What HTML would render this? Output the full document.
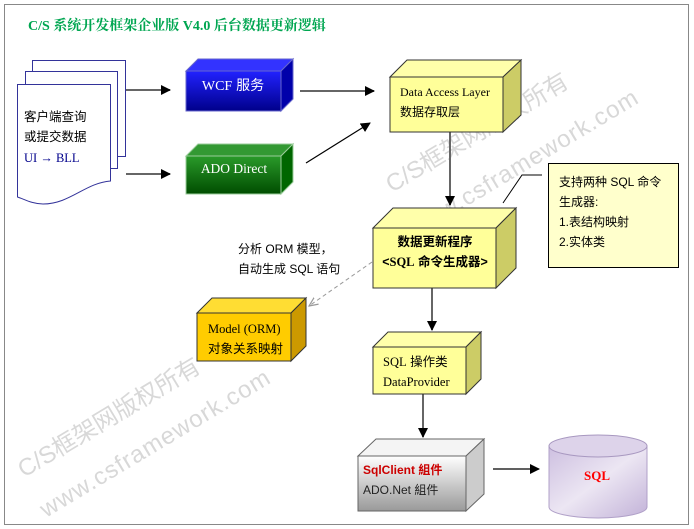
<!DOCTYPE html>
<html><head><meta charset="utf-8"><style>
html,body{margin:0;padding:0;background:#fff;}
svg{display:block;}
text{font-family:"Liberation Sans","Noto Sans CJK SC",sans-serif;}
.s{font-family:"Liberation Serif","Noto Serif CJK SC","Noto Sans CJK SC",serif;}
</style></head><body>
<svg width="694" height="529" viewBox="0 0 694 529" xmlns="http://www.w3.org/2000/svg">
<defs>
<linearGradient id="blue" x1="0" y1="0" x2="0" y2="1"><stop offset="0" stop-color="#2222ff"/><stop offset="1" stop-color="#00008a"/></linearGradient>
<linearGradient id="green" x1="0" y1="0" x2="0" y2="1"><stop offset="0" stop-color="#2a9a2a"/><stop offset="1" stop-color="#004d00"/></linearGradient>
<linearGradient id="gray" x1="0" y1="0" x2="0" y2="1"><stop offset="0" stop-color="#ffffff"/><stop offset="1" stop-color="#999999"/></linearGradient>
<linearGradient id="cyl" x1="0" y1="0" x2="1" y2="1"><stop offset="0" stop-color="#cdbfe0"/><stop offset="0.5" stop-color="#ece6f3"/><stop offset="1" stop-color="#c2b2d8"/></linearGradient>
<marker id="ar" markerWidth="10" markerHeight="10" refX="9" refY="5" orient="auto" markerUnits="userSpaceOnUse"><path d="M0,0 L10,5 L0,10 z" fill="#000"/></marker>
<marker id="ag" markerWidth="10" markerHeight="10" refX="9" refY="5" orient="auto" markerUnits="userSpaceOnUse"><path d="M0,1 L9,5 L0,9" fill="none" stroke="#999" stroke-width="1.2"/></marker>
</defs>
<rect x="4.5" y="4.5" width="684" height="520" fill="#fff" stroke="#888" stroke-width="1"/>

<g fill="#d4d4d4" font-size="24" opacity="0.9">
<text x="392" y="193" transform="rotate(-31 392 193)">C/S框架网版权所有</text>
<text x="414" y="238" transform="rotate(-31 414 238)" letter-spacing="1">www.csframework.com</text>
<text x="24" y="478" transform="rotate(-31 24 478)">C/S框架网版权所有</text>
<text x="46" y="518" transform="rotate(-31 46 518)" letter-spacing="1">www.csframework.com</text>
</g>

<text x="28" y="30" class="s" font-size="14" font-weight="bold" fill="#00a651">C/S 系统开发框架企业版 V4.0 后台数据更新逻辑</text>

<g fill="#fff" stroke="#33339a" stroke-width="1">
<rect x="32.5" y="60.5" width="93" height="96"/>
<rect x="25.5" y="71.5" width="92" height="97"/>
<path d="M17.5,84.5 H110.5 V181 C85,183 70,204 43,204 C32,204 24,199 17.5,197 Z"/>
</g>
<g font-size="12.5" fill="#000">
<text x="24" y="121">客户端查询</text>
<text x="24" y="141">或提交数据</text>
<text x="24" y="162" class="s" fill="#00008b">UI → BLL</text>
</g>

<g stroke="#666" stroke-width="2" fill="none">
<line x1="126" y1="90" x2="170" y2="90" marker-end="url(#ar)"/>
<line x1="126" y1="174" x2="170" y2="174" marker-end="url(#ar)"/>
<line x1="300" y1="91" x2="374" y2="91" marker-end="url(#ar)"/>
<line x1="306" y1="163" x2="370" y2="123" stroke="#000" stroke-width="1.2" marker-end="url(#ar)"/>
<line x1="450" y1="132" x2="450" y2="205" marker-end="url(#ar)"/>
<line x1="432" y1="288" x2="432" y2="330" marker-end="url(#ar)"/>
<line x1="423" y1="394" x2="423" y2="437" marker-end="url(#ar)"/>
<line x1="493" y1="469" x2="539" y2="469" stroke="#000" stroke-width="1.2" marker-end="url(#ar)"/>
<line x1="372" y1="262" x2="309" y2="306" stroke="#999" stroke-width="1" stroke-dasharray="4,3" marker-end="url(#ag)"/>
<polyline points="542,175 522,175 503,203" stroke="#000" stroke-width="1"/>
</g>

<g stroke="#6666cc" stroke-width="1">
<polygon points="186,71 198,59 293,59 281,71" fill="#3333ff"/>
<polygon points="281,71 293,59 293,99 281,111" fill="#0000aa"/>
<rect x="186" y="71" width="95" height="40" fill="url(#blue)"/>
</g>
<text x="233" y="90" font-size="14" fill="#fff" text-anchor="middle"><tspan class="s">WCF</tspan> 服务</text>

<g stroke="#9c9" stroke-width="1">
<polygon points="186,156 198,144 293,144 281,156" fill="#339933"/>
<polygon points="281,156 293,144 293,182 281,194" fill="#006600"/>
<rect x="186" y="156" width="95" height="38" fill="url(#green)"/>
</g>
<text x="234" y="173" class="s" font-size="13.5" fill="#fff" text-anchor="middle">ADO Direct</text>

<g stroke="#333" stroke-width="1">
<polygon points="390,77 407,60 521,60 503,77" fill="#ffffaa"/>
<polygon points="503,77 521,60 521,115 503,132" fill="#cccc66"/>
<rect x="390" y="77" width="113" height="55" fill="#ffff99"/>
</g>
<text x="400" y="96" class="s" font-size="12" fill="#000">Data Access Layer</text>
<text x="400" y="116" font-size="12" fill="#000">数据存取层</text>

<g stroke="#333" stroke-width="1">
<polygon points="373,228 393,208 516,208 496,228" fill="#ffffaa"/>
<polygon points="496,228 516,208 516,268 496,288" fill="#cccc66"/>
<rect x="373" y="228" width="123" height="60" fill="#ffff99"/>
</g>
<text x="435" y="246" font-size="12.5" font-weight="bold" text-anchor="middle">数据更新程序</text>
<text x="435" y="266" font-size="12.5" font-weight="bold" text-anchor="middle">&lt;<tspan class="s">SQL</tspan> 命令生成器&gt;</text>

<rect x="548.5" y="163.5" width="130" height="104" fill="#ffffcc" stroke="#000"/>
<g font-size="12" fill="#000">
<text x="559" y="186">支持两种  SQL  命令</text>
<text x="559" y="206">生成器:</text>
<text x="559" y="226">1.表结构映射</text>
<text x="559" y="246">2.实体类</text>
<text x="238" y="253">分析 ORM 模型，</text>
<text x="238" y="273">自动生成 SQL 语句</text>
</g>

<g stroke="#333" stroke-width="1">
<polygon points="197,313 212,298 306,298 291,313" fill="#ffdd33"/>
<polygon points="291,313 306,298 306,346 291,361" fill="#cc9900"/>
<rect x="197" y="313" width="94" height="48" fill="#ffcc00"/>
</g>
<text x="208" y="333" class="s" font-size="12.5" fill="#000">Model (ORM)</text>
<text x="208" y="353" font-size="12.5" fill="#000">对象关系映射</text>

<g stroke="#333" stroke-width="1">
<polygon points="373,347 388,332 481,332 466,347" fill="#ffffaa"/>
<polygon points="466,347 481,332 481,379 466,394" fill="#cccc66"/>
<rect x="373" y="347" width="93" height="47" fill="#ffff99"/>
</g>
<text x="383" y="366" font-size="12.5" fill="#000"><tspan class="s">SQL</tspan> 操作类</text>
<text x="383" y="386" class="s" font-size="12.5" fill="#000">DataProvider</text>

<g stroke="#666" stroke-width="1">
<polygon points="358,456 376,439 484,439 466,456" fill="#f4f4f4"/>
<polygon points="466,456 484,439 484,494 466,511" fill="#cccccc"/>
<rect x="358" y="456" width="108" height="55" fill="url(#gray)"/>
</g>
<text x="363" y="474" font-size="12" font-weight="bold" fill="#cc0000">SqlClient 組件</text>
<text x="363" y="494" font-size="12" fill="#222">ADO.Net 組件</text>

<path d="M549,446 V507 A49,11 0 0 0 647,507 V446" fill="url(#cyl)" stroke="#b0a0c8"/>
<ellipse cx="598" cy="446" rx="49" ry="11" fill="#ddd3ea" stroke="#a898c0"/>
<text x="597" y="480" class="s" font-size="13" font-weight="bold" fill="#ff0000" text-anchor="middle">SQL</text>
</svg>
</body></html>
